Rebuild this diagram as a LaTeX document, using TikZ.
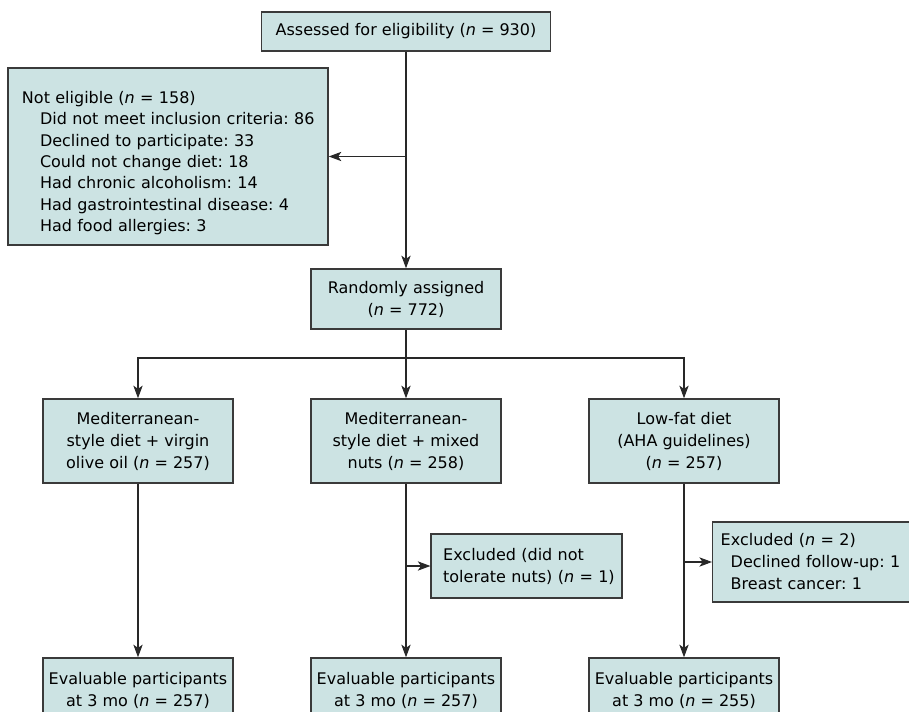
\documentclass[tikz,border=0pt]{standalone}
\usepackage{fontspec}
\setmainfont{DejaVu Sans}
\usetikzlibrary{arrows.meta}
\definecolor{boxfill}{RGB}{204,227,227}
\definecolor{boxline}{RGB}{58,58,58}
\definecolor{linkline}{RGB}{40,40,40}
\frenchspacing
\begin{document}
\begin{tikzpicture}[x=0.75pt, y=-0.75pt,
  box/.style={draw=boxline, fill=boxfill, line width=1.1pt, align=center, inner sep=0pt,
    font=\fontsize{12}{16.5}\selectfont},
  armbox/.style={box, minimum width=142.5pt, minimum height=63pt},
  evalbox/.style={box, minimum width=142.5pt, minimum height=48pt},
  link/.style={draw=linkline, line width=0.8pt, -{Stealth[length=9.5pt,width=7pt,inset=2.5pt]}},
  plain/.style={draw=linkline, line width=0.8pt}]
\useasboundingbox (0,0) rectangle (909,712);
\clip (0,0) rectangle (909,712);

% screening
\node[box, minimum width=216.75pt, minimum height=29.25pt] (assess) at (406,31.5) {Assessed for eligibility (\textit{n} = 930)};
\node[box, align=left, text width=236pt, inner xsep=2pt, minimum height=132.75pt,
  font=\fontsize{12}{16}\selectfont] (noteligible) at (168,156.5)
  {\rule{0pt}{19pt}\hspace*{8.5pt}Not eligible (\textit{n} = 158)\\
   \hspace*{22pt}Did not meet inclusion criteria: 86\\
   \hspace*{22pt}Declined to participate: 33\\
   \hspace*{22pt}Could not change diet: 18\\
   \hspace*{22pt}Had chronic alcoholism: 14\\
   \hspace*{22pt}Had gastrointestinal disease: 4\\
   \hspace*{22pt}Had food allergies: 3};
\node[box, minimum width=142.5pt, minimum height=45pt] (random) at (406,299) {Randomly assigned\\(\textit{n} = 772)};

% arms
\node[armbox] (oliveoil) at (138,441) {Mediterranean-\\style diet + virgin\\olive oil (\textit{n} = 257)};
\node[armbox] (nuts) at (406,441) {Mediterranean-\\style diet + mixed\\nuts (\textit{n} = 258)};
\node[armbox] (lowfat) at (684,441) {Low-fat diet\\(AHA guidelines)\\(\textit{n} = 257)};

% exclusions
\node[box, align=left, text width=137pt, inner xsep=3pt, minimum height=48pt] (exclnuts) at (526.5,566)
  {\hspace*{6pt}Excluded (did not\\\hspace*{6pt}tolerate nuts) (\textit{n} = 1)};
\node[box, align=left, anchor=west, text width=170pt, inner xsep=6pt, minimum height=60pt] (excllowfat) at (712,562)
  {Excluded (\textit{n} = 2)\\
   \hspace*{7.5pt}Declined follow-up: 1\\
   \hspace*{7.5pt}Breast cancer: 1};

% evaluable
\node[evalbox] (evaloil) at (138,690) {Evaluable participants\\at 3 mo (\textit{n} = 257)};
\node[evalbox] (evalnuts) at (406,690) {Evaluable participants\\at 3 mo (\textit{n} = 257)};
\node[evalbox] (evallowfat) at (684,690) {Evaluable participants\\at 3 mo (\textit{n} = 255)};

% connectors
\coordinate (fork) at (406,358);
\draw[link] (assess) -- (random);
\draw[link] (noteligible.east -| assess) -- (noteligible.east);
\draw[plain] (random) -- (fork);
\draw[link] (fork) -| (oliveoil);
\draw[link] (fork) -| (lowfat);
\draw[link] (fork) -- (nuts);
\draw[link] (oliveoil) -- (evaloil);
\draw[link] (nuts) -- (evalnuts);
\draw[link] (lowfat) -- (evallowfat);
\draw[link] (exclnuts.west -| nuts) -- (exclnuts.west);
\draw[link] (excllowfat.west -| lowfat) -- (excllowfat.west);
\end{tikzpicture}
\end{document}
